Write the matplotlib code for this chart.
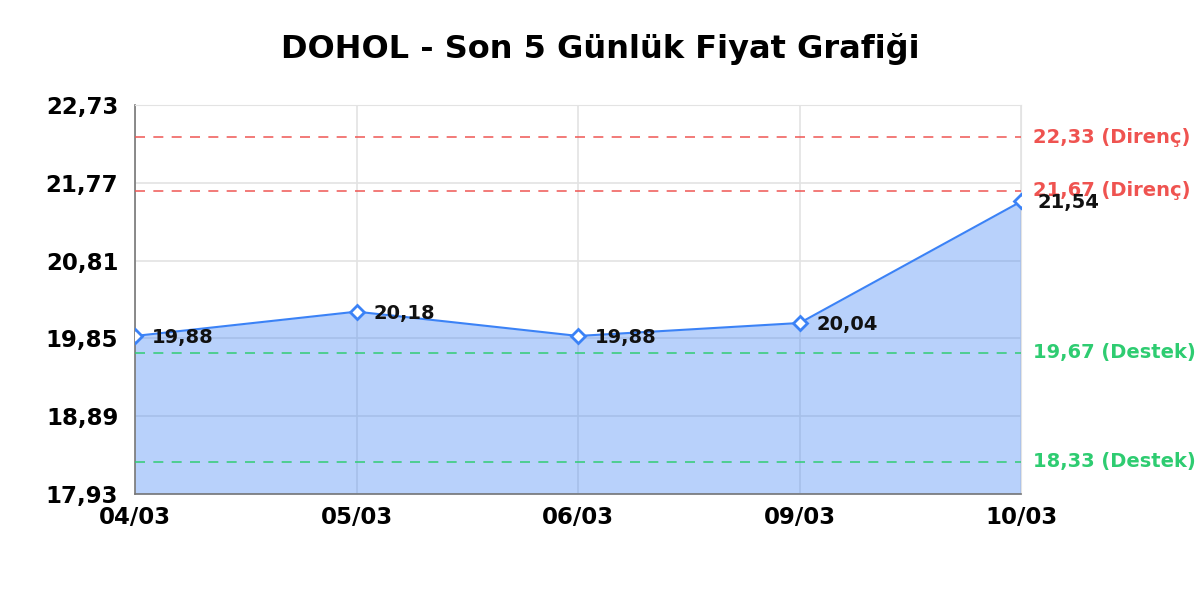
import matplotlib
matplotlib.use("Agg")
import matplotlib.pyplot as plt
import matplotlib.transforms as mtransforms

dates = ["04/03", "05/03", "06/03", "09/03", "10/03"]
prices = [19.88, 20.18, 19.88, 20.04, 21.54]
resistances = [22.33, 21.67]
supports = [19.67, 18.33]
y_ticks = [17.93, 18.89, 19.85, 20.81, 21.77, 22.73]

blue = "#3b82f6"
red = "#ef5350"
green = "#2ecc71"

fig = plt.figure(figsize=(12, 6), dpi=100)
ax = fig.add_axes([0.1125, 0.1767, 0.7385, 0.6483])

x = list(range(len(dates)))
ax.fill_between(x, prices, y_ticks[0], color=blue, alpha=0.36, lw=0, zorder=2)
ax.plot(x, prices, color=blue, lw=1.5, zorder=3)
ax.plot(x, prices, ls="none", marker="D", ms=7, mfc="white", mec=blue,
        mew=2, zorder=4)

# fiyat etiketleri
for xi, p in zip(x, prices):
    ax.annotate(f"{p:.2f}".replace(".", ","), (xi, p), xytext=(12, -1),
                textcoords="offset points", va="center", ha="left",
                fontsize=14, fontweight="bold", color="#111111", zorder=5)

# destek / direnç çizgileri
trans = mtransforms.blended_transform_factory(ax.transAxes, ax.transData)
for r in resistances:
    ax.axhline(r, color=red, ls=(0, (6, 5)), lw=1.2, alpha=0.9, zorder=3)
    ax.text(1.013, r, f"{r:.2f}".replace(".", ",") + " (Direnç)", transform=trans,
            color=red, fontsize=14, fontweight="bold", va="center", ha="left")
for s in supports:
    ax.axhline(s, color=green, ls=(0, (6, 5)), lw=1.2, alpha=0.9, zorder=3)
    ax.text(1.013, s, f"{s:.2f}".replace(".", ",") + " (Destek)", transform=trans,
            color=green, fontsize=14, fontweight="bold", va="center", ha="left")

ax.set_xlim(0, len(dates) - 1)
ax.set_ylim(y_ticks[0], y_ticks[-1])
ax.set_xticks(x)
ax.set_xticklabels(dates)
ax.set_yticks(y_ticks)
ax.set_yticklabels([f"{t:.2f}".replace(".", ",") for t in y_ticks])
ax.tick_params(axis="both", length=0, labelsize=16.5)
ax.tick_params(axis="y", pad=12)
ax.tick_params(axis="x", pad=9)
for lbl in ax.get_xticklabels() + ax.get_yticklabels():
    lbl.set_fontweight("bold")

ax.grid(True, color="#e3e3e3", lw=1.2, zorder=1)
ax.set_axisbelow(True)
for side in ["top", "right"]:
    ax.spines[side].set_color("#e3e3e3")
for side in ["left", "bottom"]:
    ax.spines[side].set_color("#777777")
    ax.spines[side].set_linewidth(1.2)

fig.suptitle("DOHOL - Son 5 Günlük Fiyat Grafiği", fontsize=23, fontweight="bold",
             y=0.945)

fig.savefig("out.png", dpi=100)
